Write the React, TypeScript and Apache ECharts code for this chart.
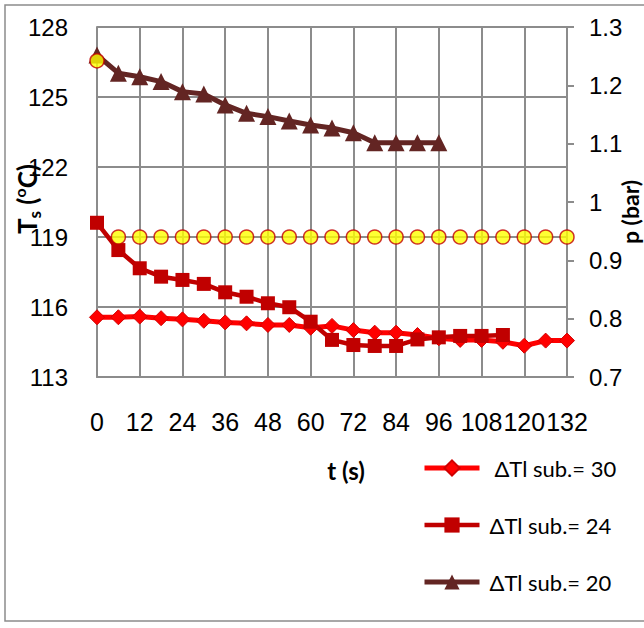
import React, { useEffect, useRef } from "react";
import * as echarts from "echarts";

// Elapsed time (s) for each run
const timeSub30 = [0, 6, 12, 18, 24, 30, 36, 42, 48, 54, 60, 66, 72, 78, 84, 90, 96, 102, 108, 114, 120, 126, 132];
const timeSub24 = [0, 6, 12, 18, 24, 30, 36, 42, 48, 54, 60, 66, 72, 78, 84, 90, 96, 102, 108, 114];
const timeSub20 = [0, 6, 12, 18, 24, 30, 36, 42, 48, 54, 60, 66, 72, 78, 84, 90, 96];
const timePressure = [0, 6, 12, 18, 24, 30, 36, 42, 48, 54, 60, 66, 72, 78, 84, 90, 96, 102, 108, 114, 120, 126, 132];

// Surface temperature Ts (°C)
const tsSub30 = [115.56, 115.56, 115.59, 115.52, 115.47, 115.41, 115.34, 115.3, 115.23, 115.23, 115.11, 115.19, 115.01, 114.9, 114.9, 114.8, 114.66, 114.59, 114.59, 114.51, 114.34, 114.56, 114.56];
const tsSub24 = [119.61, 118.44, 117.66, 117.3, 117.16, 116.99, 116.63, 116.44, 116.16, 115.99, 115.37, 114.59, 114.37, 114.33, 114.33, 114.61, 114.7, 114.76, 114.76, 114.8];
const tsSub20 = [126.8, 126.02, 125.87, 125.66, 125.23, 125.13, 124.66, 124.3, 124.16, 123.97, 123.8, 123.67, 123.47, 123.04, 123.04, 123.04, 123.04];

// System pressure p (bar)
const pressure = [1.242, 0.94, 0.94, 0.94, 0.94, 0.94, 0.94, 0.94, 0.94, 0.94, 0.94, 0.94, 0.94, 0.94, 0.94, 0.94, 0.94, 0.94, 0.94, 0.94, 0.94, 0.94, 0.94];

const seriesNames = ["\u00a0ΔTl sub.= 30", "ΔTl sub.= 24", "ΔTl sub.= 20"];
const seriesColors = ["#ff0000", "#c00000", "#632523"];
const lineWidths = [5, 4.5, 5];

const GRID_COLOR = "#8c8c8c";
const LABEL_FONT = "Liberation Sans";
const TITLE_FONT = "Lato";

const pairs = (xs: number[], ys: number[]) => xs.map((x, i) => [x, ys[i]]);

export default function App() {
  const ref = useRef<HTMLDivElement>(null);

  useEffect(() => {
    document.body.style.margin = "0";
    if (!ref.current) return;
    const chart = echarts.init(ref.current, null, { renderer: "svg" });

    const axisLine = { show: true, lineStyle: { color: GRID_COLOR, width: 2 } };
    const splitLine = { show: true, lineStyle: { color: GRID_COLOR, width: 2 } };

    chart.setOption({
      animation: false,
      backgroundColor: "#ffffff",
      grid: { left: 97, top: 27, width: 470, height: 350, containLabel: false },
      xAxis: {
        type: "value",
        min: 0,
        max: 132,
        interval: 12,
        axisLine,
        axisTick: { show: false },
        axisLabel: { color: "#000", fontSize: 25, fontFamily: LABEL_FONT, margin: 32 },
        splitLine,
      },
      yAxis: [
        {
          type: "value",
          min: 113,
          max: 128,
          interval: 3,
          position: "left",
          axisLine,
          axisTick: { show: false },
          axisLabel: { color: "#000", fontSize: 24, fontFamily: LABEL_FONT, margin: 29 },
          splitLine,
        },
        {
          type: "value",
          min: 0.7,
          max: 1.3,
          interval: 0.1,
          position: "right",
          axisLine,
          axisTick: { show: true, length: 7, lineStyle: { color: GRID_COLOR, width: 2 } },
          axisLabel: { color: "#000", fontSize: 24, fontFamily: LABEL_FONT, margin: 22 },
          splitLine: { show: false },
        },
      ],
      legend: {
        data: seriesNames.map((name, i) => ({
          name,
          lineStyle: { color: seriesColors[i], width: lineWidths[i] },
        })),
        orient: "vertical",
        left: 417,
        top: 452,
        itemWidth: 55,
        itemHeight: 19,
        itemGap: 35,
        selectedMode: false,
        textStyle: { color: "#000", fontSize: 22, fontFamily: TITLE_FONT, padding: [0, 0, 0, 5] },
      },
      series: [
        {
          name: seriesNames[0],
          type: "line",
          yAxisIndex: 0,
          data: pairs(timeSub30, tsSub30),
          symbol: "diamond",
          symbolSize: 15,
          lineStyle: { color: seriesColors[0], width: lineWidths[0] },
          itemStyle: { color: seriesColors[0], borderColor: "#d00000", borderWidth: 1 },
        },
        {
          name: seriesNames[1],
          type: "line",
          yAxisIndex: 0,
          data: pairs(timeSub24, tsSub24),
          symbol: "rect",
          symbolSize: 14,
          lineStyle: { color: seriesColors[1], width: lineWidths[1] },
          itemStyle: { color: seriesColors[1] },
        },
        {
          name: seriesNames[2],
          type: "line",
          yAxisIndex: 0,
          data: pairs(timeSub20, tsSub20),
          symbol: "triangle",
          symbolSize: 17,
          lineStyle: { color: seriesColors[2], width: lineWidths[2] },
          itemStyle: { color: seriesColors[2] },
        },
        {
          name: "p",
          type: "scatter",
          yAxisIndex: 1,
          data: pairs(timePressure, pressure),
          symbol: "circle",
          symbolSize: 14,
          z: 5,
          itemStyle: { color: "#ffff00", borderColor: "#c00000", borderWidth: 1.5 },
        },
      ],
      graphic: [
        {
          type: "rect",
          shape: { x: 5, y: 5, width: 660, height: 616 },
          style: { fill: "none", stroke: GRID_COLOR, lineWidth: 1.5 },
          silent: true,
          z: -10,
        },
        {
          type: "text",
          x: 27,
          y: 199,
          rotation: Math.PI / 2,
          style: {
            text: "{b|T}{s|s}{b| (}{o|o}{b|C)}",
            align: "center",
            verticalAlign: "middle",
            fill: "#000",
            rich: {
              b: { font: `bold 26px ${TITLE_FONT}`, fill: "#000", verticalAlign: "middle", lineHeight: 32 },
              s: { font: `bold 17px ${TITLE_FONT}`, fill: "#000", verticalAlign: "bottom", lineHeight: 32 },
              o: { font: `bold 16px ${TITLE_FONT}`, fill: "#000", verticalAlign: "top", lineHeight: 32 },
            },
          },
        },
        {
          type: "text",
          x: 630,
          y: 212,
          rotation: Math.PI / 2,
          style: {
            text: "p (bar)",
            font: `bold 23px ${TITLE_FONT}`,
            fill: "#000",
            align: "center",
            verticalAlign: "middle",
          },
        },
        {
          type: "text",
          x: 346,
          y: 470,
          style: {
            text: "t (s)",
            font: `bold 24px ${TITLE_FONT}`,
            fill: "#000",
            align: "center",
            verticalAlign: "middle",
          },
        },
      ],
    });

    return () => chart.dispose();
  }, []);

  return <div ref={ref} style={{ width: 644, height: 628 }} />;
}
